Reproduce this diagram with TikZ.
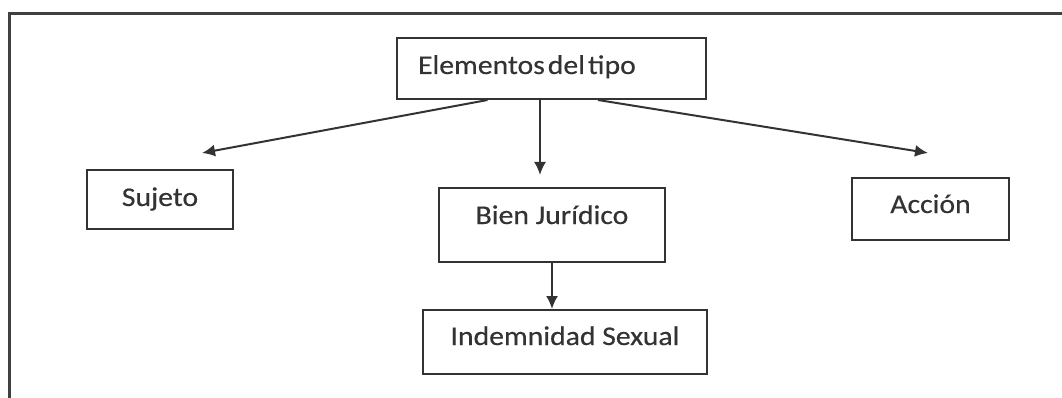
\documentclass[tikz,border=0pt]{standalone}
\usepackage{fontspec}
\setmainfont{Carlito}[FakeStretch=1.1,FakeBold=0.4]
\usepackage{tikz}
\usetikzlibrary{arrows.meta,positioning}
\definecolor{gris}{RGB}{51,51,51}
\definecolor{marco}{RGB}{64,64,64}

\begin{document}
\begin{tikzpicture}[>={Latex[length=13pt,width=12pt]},x=1pt,y=-1pt,line width=2pt,text=gris]
\useasboundingbox (0,0) rectangle (1062,398);
\tikzstyle{caja}=[draw=gris,rectangle,inner sep=0pt,anchor=base,font=\fontsize{27}{32}\selectfont]

\draw[marco,line width=3pt] (9,398) -- (9,14) -- (1062,14);

\draw (551.5,74) node[caja,text width=267pt,inner xsep=21pt,align=left,text height=36pt,text depth=25pt] (elem) {\spaceskip=3pt Elementos del tipo};
\draw (160,206) node[caja,minimum width=146pt,text height=36pt,text depth=23pt] (suj) {Sujeto};
\draw (552,224) node[caja,minimum width=226pt,text height=36pt,text depth=38pt] (bien) {Bien Jurídico};
\draw (565,345) node[caja,minimum width=284pt,text height=35pt,text depth=29pt] (indem) {Indemnidad Sexual};
\draw (930.5,213) node[caja,minimum width=157pt,text height=35pt,text depth=27pt] (acc) {Acción};

\coordinate (sujfin) at (202,153);
\coordinate (bienfin) at (540,175);
\coordinate (accfin) at (928,153);

\draw[->,gris] ([xshift=-64pt]elem.south) -- (sujfin);
\draw[->,gris] ([xshift=-11.5pt]elem.south) -- (bienfin);
\draw[->,gris] ([xshift=46.5pt]elem.south) -- (accfin);
\draw[->,gris] (bien.south) -- (bien.south |- indem.north);

\end{tikzpicture}
\end{document}
